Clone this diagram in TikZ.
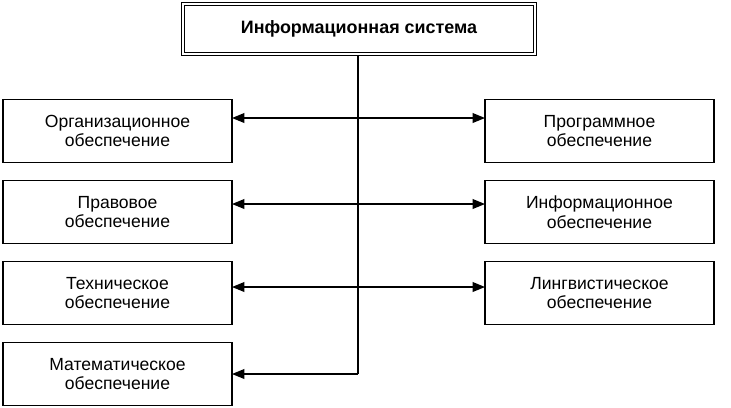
\documentclass[tikz,border=0pt]{standalone}
\usepackage{fontspec}
\setmainfont{Liberation Sans}
\usetikzlibrary{arrows.meta}
\tikzset{
	part/.style={draw, line width=0.9pt, minimum width=4.58cm, minimum height=1.26cm, align=center, font=\fontsize{10}{11.2}\selectfont, outer sep=0pt},
	sysbox/.style={draw, line width=0.6pt, minimum width=6.98cm, minimum height=0.94cm, font=\fontsize{10.2}{12}\selectfont\bfseries, outer sep=0pt},
	link/.style={line width=0.8pt},
	twoway/.style={link, {Triangle[length=7pt,width=5.5pt]}-{Triangle[length=7pt,width=5.5pt]}},
	oneway/.style={link, -{Triangle[length=7pt,width=5.5pt]}}
}

\begin{document}
\begin{tikzpicture}[x=0.02cm, y=-0.02cm]
			%%%%% START %%%%%
			
			\useasboundingbox (0, 0) rectangle (731, 407);
			
			\node[sysbox] (is) at (359, 29) {Информационная система};
			\draw[line width=0.6pt] ([shift={(-3, -3)}]is.north west) rectangle ([shift={(3, 3)}]is.south east);
			
			\node[part] (org) at (117.5, 131) {Организационное\\обеспечение};
			\node[part] (prav) at (117.5, 212) {Правовое\\обеспечение};
			\node[part] (tech) at (117.5, 293) {Техническое\\обеспечение};
			\node[part] (mat) at (117.5, 374) {Математическое\\обеспечение};
			
			\node[part] (prog) at (599.5, 131) {Программное\\обеспечение};
			\node[part] (inf) at (599.5, 212) {Информационное\\обеспечение};
			\node[part] (ling) at (599.5, 293) {Лингвистическое\\обеспечение};
			
			\coordinate (j1) at (358, 118);
			\coordinate (j2) at (358, 204);
			\coordinate (j3) at (358, 287);
			\coordinate (j4) at (358, 374);
			
			\draw[link] ([shift={(0, 3)}]is.south -| j1) -- (j4);
			\draw[twoway] (org.east |- j1) -- (prog.west |- j1);
			\draw[twoway] (prav.east |- j2) -- (inf.west |- j2);
			\draw[twoway] (tech.east |- j3) -- (ling.west |- j3);
			\draw[oneway] (j4) -- (mat.east |- j4);
			
			%%%%% END %%%%%
\end{tikzpicture}
\end{document}
